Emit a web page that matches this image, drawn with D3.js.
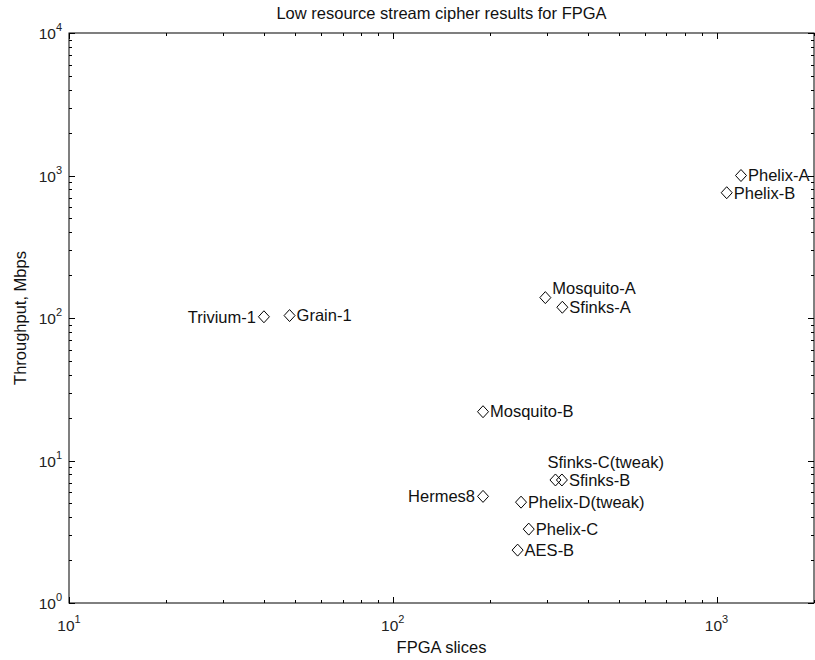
<!DOCTYPE html>
<html><head><meta charset="utf-8">
<script src="https://cdn.jsdelivr.net/npm/d3@7"></script>
<style>body{margin:0;background:#fff}svg{display:block;font-family:"Liberation Sans",Arial,sans-serif}</style>
</head><body><svg id="c" width="815" height="660"></svg>
<script>
const names = ["Trivium-1","Grain-1","Mosquito-A","Sfinks-A","Mosquito-B","Sfinks-C(tweak)","Sfinks-B","Hermes8","Phelix-D(tweak)","Phelix-C","AES-B","Phelix-A","Phelix-B"];
const slices = [40, 48, 296, 334, 190, 318, 333, 190, 249, 263, 243, 1190, 1075];
const throughput = [102, 104, 139, 119, 22, 7.3, 7.3, 5.6, 5.1, 3.3, 2.35, 1000, 757];
const labelSide = ["left","right","upright","right","right","above","right","left","right","right","right","right","right"];
const xTickExps = [1, 2, 3];
const yTickExps = [0, 1, 2, 3, 4];
const title = "Low resource stream cipher results for FPGA";
const xTitle = "FPGA slices";
const yTitle = "Throughput, Mbps";

const L = 69, R = 814, T = 33, B = 603;
const svg = d3.select("#c");
const x = d3.scaleLog().domain([10, 2000]).range([L, R]);
const y = d3.scaleLog().domain([1, 10000]).range([B, T]);

svg.append("rect").attr("x", L).attr("y", T).attr("width", R - L).attr("height", B - T)
  .attr("fill", "none").attr("stroke", "#000").attr("stroke-width", 1);

function ticksFor(dom) {
  const out = [];
  const lo = Math.floor(Math.log10(dom[0])), hi = Math.ceil(Math.log10(dom[1]));
  for (let e = lo; e <= hi; e++) for (let m = 1; m <= 9; m++) {
    const v = m * Math.pow(10, e);
    if (v >= dom[0] * 0.9999 && v <= dom[1] * 1.0001) out.push({v, major: m === 1});
  }
  return out;
}
const g = svg.append("g").attr("stroke", "#000").attr("stroke-width", 1);
ticksFor(x.domain()).forEach(t => {
  const px = Math.round(x(t.v)) + 0.5, len = t.major ? 6 : 3;
  g.append("line").attr("x1", px).attr("x2", px).attr("y1", B).attr("y2", B - len);
  g.append("line").attr("x1", px).attr("x2", px).attr("y1", T).attr("y2", T + len);
});
ticksFor(y.domain()).forEach(t => {
  const py = Math.round(y(t.v)) + 0.5, len = t.major ? 6 : 3;
  g.append("line").attr("y1", py).attr("y2", py).attr("x1", L).attr("x2", L + len);
  g.append("line").attr("y1", py).attr("y2", py).attr("x1", R).attr("x2", R - len);
});

xTickExps.forEach(e => {
  const t = svg.append("text").attr("x", x(Math.pow(10, e))).attr("y", 631)
    .attr("text-anchor", "middle").attr("font-size", 15.5).attr("fill", "#222");
  t.append("tspan").text("10");
  t.append("tspan").attr("dy", -8).attr("font-size", 11).text(e);
});
yTickExps.forEach(e => {
  const t = svg.append("text").attr("x", L - 7).attr("y", y(Math.pow(10, e)) + 6)
    .attr("text-anchor", "end").attr("font-size", 15.5).attr("fill", "#222");
  t.append("tspan").text("10");
  t.append("tspan").attr("dy", -8).attr("font-size", 11).text(e);
});

svg.append("text").attr("x", (L + R) / 2).attr("y", 19).attr("text-anchor", "middle")
  .attr("font-size", 16.5).attr("fill", "#111").text(title);
svg.append("text").attr("x", (L + R) / 2).attr("y", 653).attr("text-anchor", "middle")
  .attr("font-size", 16.5).attr("fill", "#111").text(xTitle);
svg.append("text").attr("transform", `translate(26,${(T + B) / 2}) rotate(-90)`)
  .attr("text-anchor", "middle").attr("font-size", 16.5).attr("fill", "#111").text(yTitle);

const data = names.map((n, i) => ({n, xs: slices[i], ys: throughput[i], side: labelSide[i]}));
const diamond = "M0,-6L5.5,0L0,6L-5.5,0Z";
const pts = svg.append("g");
pts.selectAll("path").data(data).join("path")
  .attr("d", diamond)
  .attr("transform", d => `translate(${x(d.xs)},${y(d.ys)})`)
  .attr("fill", "none").attr("stroke", "#000").attr("stroke-width", 1);
pts.selectAll("text").data(data).join("text")
  .attr("x", d => x(d.xs) + (d.side === "left" ? -8 : d.side === "above" ? -8 : 7))
  .attr("y", d => y(d.ys) + (d.side === "upright" ? -9 : d.side === "above" ? -18 : 0))
  .attr("dy", "0.35em")
  .attr("text-anchor", d => d.side === "left" ? "end" : "start")
  .attr("font-size", 16.5).attr("fill", "#111").text(d => d.n);
</script></body></html>
